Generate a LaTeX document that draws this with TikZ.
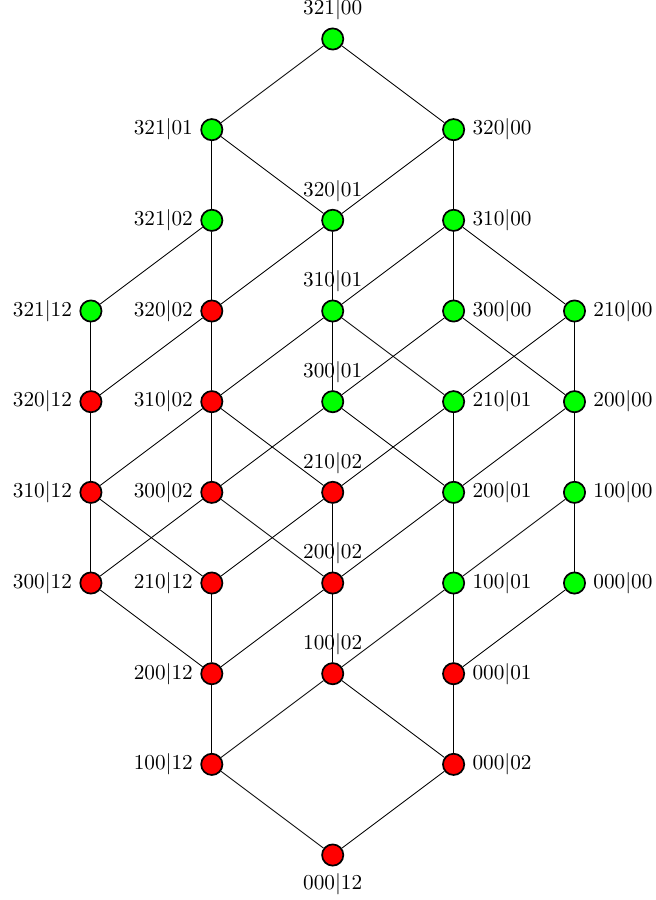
\documentclass[tikz,border=0pt]{standalone}
\usepackage{tikz}
\begin{document}
\begin{tikzpicture}[x=2cm,y=-1.5cm,
  vertex/.style={circle,draw,thick,minimum size=10pt,inner sep=0pt},
  safe/.style={vertex,fill=green},
  unsafe/.style={vertex,fill=red}]
\useasboundingbox (-0.752,-0.43) rectangle (4.67,9.496);
% vertices: first part / second part / column / row / kind / label side
\foreach \a/\b/\c/\r/\k/\p in {
  321/00/2/0/safe/above,
  321/01/1/1/safe/left, 320/00/3/1/safe/right,
  321/02/1/2/safe/left, 320/01/2/2/safe/above, 310/00/3/2/safe/right,
  321/12/0/3/safe/left, 320/02/1/3/unsafe/left, 310/01/2/3/safe/above,
  300/00/3/3/safe/right, 210/00/4/3/safe/right,
  320/12/0/4/unsafe/left, 310/02/1/4/unsafe/left, 300/01/2/4/safe/above,
  210/01/3/4/safe/right, 200/00/4/4/safe/right,
  310/12/0/5/unsafe/left, 300/02/1/5/unsafe/left, 210/02/2/5/unsafe/above,
  200/01/3/5/safe/right, 100/00/4/5/safe/right,
  300/12/0/6/unsafe/left, 210/12/1/6/unsafe/left, 200/02/2/6/unsafe/above,
  100/01/3/6/safe/right, 000/00/4/6/safe/right,
  200/12/1/7/unsafe/left, 100/02/2/7/unsafe/above, 000/01/3/7/unsafe/right,
  100/12/1/8/unsafe/left, 000/02/3/8/unsafe/right,
  000/12/2/9/unsafe/below}
  \node[\k,label=\p:{$\a|\b$}] (n\a\b) at (\c,\r) {};

% covers in the first part
\foreach \b in {00,01,02,12}
  \foreach \u/\v in {321/320,320/310,310/300,310/210,300/200,210/200,200/100,100/000}
    \draw (n\u\b) -- (n\v\b);
% covers in the second part
\foreach \a in {321,320,310,300,210,200,100,000}
  \foreach \u/\v in {00/01,01/02,02/12}
    \draw (n\a\u) -- (n\a\v);
\end{tikzpicture}
\end{document}
